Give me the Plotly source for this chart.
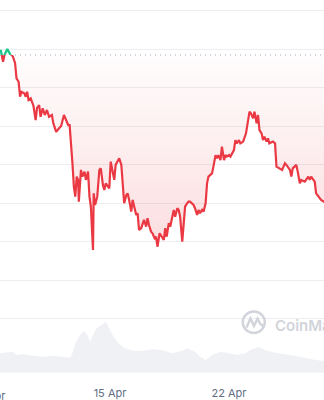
import pandas as pd
import plotly.graph_objects as go

# ---------------- data ----------------
START = pd.Timestamp("2024-04-08")

# hours since 8 Apr 2024 00:00
hours = [13, 14, 17, 19, 23, 27, 31, 34, 36, 39, 41, 43, 47, 49, 51, 53, 56, 60, 63, 65,
         68, 70, 73, 76, 79, 82, 86, 88, 92, 95, 99, 103, 107, 109, 111, 113, 115, 117, 119, 121,
         123, 124, 127, 129, 132, 134, 137, 139, 141, 144, 145, 147, 150, 153, 155, 158, 160, 162, 165, 167,
         169, 172, 174, 176, 179, 181, 184, 186, 188, 191, 193, 195, 198, 200, 202, 205, 207, 209, 212, 214,
         216, 219, 221, 223, 226, 228, 231, 233, 235, 238, 241, 244, 246, 248, 251, 253, 256, 258, 260, 263,
         265, 267, 270, 272, 274, 277, 279, 281, 284, 286, 288, 291, 293, 295, 298, 300, 303, 305, 307, 310,
         312, 314, 317, 319, 321, 324, 326, 329, 331, 333, 336, 338, 340, 343, 345, 347, 350, 352, 356, 358,
         360, 363, 365, 367, 370, 372, 375, 377, 379, 382, 384, 386, 389, 391, 393, 398, 401, 403, 408, 411,
         415, 417, 422, 424, 426, 431, 433, 436, 438, 443, 448, 450, 452, 455, 457, 459, 462, 464, 466, 470, 474]

price = [71950, 71910, 71340, 71690, 72000, 71780, 71600, 71260, 70480, 70300,
         69520, 69780, 69700, 69520, 69780, 69350, 69440, 69040, 68310, 68940,
         69090, 68480, 68920, 68570, 68830, 68480, 68570, 68140, 67700, 67830,
         68000, 68570, 68220, 68050, 68050, 66750, 66060, 64850, 64330, 65370,
         65200, 64070, 65720, 65370, 65630, 65200, 65630, 64330, 63810, 61560,
         64500, 63900, 64330, 65720, 65800, 64940, 64680, 65020, 64850, 64760,
         66150, 65540, 65200, 65980, 66230, 66320, 65980, 64940, 63990, 64420,
         64500, 64160, 63550, 64160, 63810, 63380, 63470, 62600, 62690, 62860,
         63120, 62770, 63210, 62860, 62510, 62430, 62170, 62250, 61730, 62430,
         62250, 62080, 62690, 62250, 62950, 62770, 63290, 63640, 63290, 63730,
         63640, 63290, 61990, 63030, 63810, 63990, 64070, 64070, 63990, 63900,
         63730, 63380, 63640, 63470, 63640, 63550, 63990, 65020, 65370, 65460,
         65540, 65890, 66490, 66320, 66490, 66230, 66930, 66230, 66490, 66410,
         66490, 66410, 66580, 66750, 67270, 67100, 67270, 67100, 67190, 67450,
         67620, 68310, 68740, 68660, 68400, 68740, 68140, 68570, 67790, 67620,
         67270, 67450, 67190, 67360, 67100, 67190, 67100, 65890, 65800, 65720,
         66060, 65980, 65720, 65370, 65800, 65980, 65630, 65020, 65200, 65110,
         65370, 65200, 65370, 65200, 65110, 64500, 64330, 64250, 64160, 64070, 64000]

vol_hours = [12, 22, 31, 36, 46, 60, 74, 88, 102, 112, 115, 119, 126, 131, 136, 140,
             144, 149, 156, 162, 167, 173, 180, 189, 201, 215, 229, 241, 256, 270, 277, 288,
             295, 303, 312, 324, 336, 347, 359, 368, 378, 387, 401, 415, 430, 444, 458, 470, 474]
volume_bn = [29.1, 30.0, 31.5, 26.6, 27.6, 25.5, 24.0, 25.5, 24.0, 22.5, 29.1, 44.1, 56.6, 63.0, 56.6, 46.5,
             56.6, 66.6, 71.6, 76.5, 66.6, 54.0, 44.1, 36.6, 33.0, 33.0, 35.1, 34.1, 29.1, 33.0, 36.6, 31.5,
             24.0, 19.1, 26.6, 31.5, 29.1, 26.6, 29.1, 35.1, 38.1, 34.1, 30.0, 28.1, 25.1, 22.5, 19.1, 17.6, 17.4]

open_price = 71690
grid_vals = [58000, 60000, 62000, 64000, 66000, 68000, 70000, 72000, 74000]
tick_dates = ["2024-04-15", "2024-04-22"]
tick_text = ["15 Apr", "22 Apr"]
first_label = "8 Apr"

# ---------------- layout geometry ----------------
W, H, B = 324, 400, 20
PH = H - B
y_lo, y_hi = 54806, 74546
x_range = [START + pd.Timedelta(hours=12.706), START + pd.Timedelta(hours=470.12)]
d = (open_price - y_lo) / (y_hi - y_lo)

RED = "#ea3943"
GREEN = "#16c784"
LABEL = "#616e85"

t = START + pd.to_timedelta(hours, unit="h")
tv = START + pd.to_timedelta(vol_hours, unit="h")

def px(x):
    return x / W

def py(y):
    return (PH - y) / PH

fig = go.Figure()

# volume area
fig.add_trace(go.Scatter(x=tv, y=volume_bn, yaxis="y2", mode="lines", line=dict(width=0),
                         fill="tozeroy", fillcolor="#eff1f4", hoverinfo="skip", showlegend=False))

# red area (below opening price) between line and baseline
fig.add_trace(go.Scatter(x=[t[0], t[-1]], y=[open_price, open_price], yaxis="y3", mode="lines",
                         line=dict(width=0), hoverinfo="skip", showlegend=False))
fig.add_trace(go.Scatter(x=t, y=price, yaxis="y3", mode="lines", line=dict(width=0),
                         fill="tonexty",
                         fillgradient=dict(type="vertical", start=61500, stop=open_price,
                                           colorscale=[[0, "rgba(234,57,67,0.17)"],
                                                       [1, "rgba(234,57,67,0.01)"]]),
                         hoverinfo="skip", showlegend=False))

# green area (above opening price)
fig.add_trace(go.Scatter(x=[t[0], t[-1]], y=[open_price, open_price], yaxis="y4", mode="lines",
                         line=dict(width=0), hoverinfo="skip", showlegend=False))
fig.add_trace(go.Scatter(x=t, y=price, yaxis="y4", mode="lines", line=dict(width=0),
                         fill="tonexty", fillcolor="rgba(22,199,132,0.06)",
                         hoverinfo="skip", showlegend=False))

# price line, green above / red below the opening price
fig.add_trace(go.Scatter(x=t, y=price, yaxis="y4", mode="lines",
                         line=dict(color=GREEN, width=2.2), showlegend=False))
fig.add_trace(go.Scatter(x=t, y=price, yaxis="y3", mode="lines",
                         line=dict(color=RED, width=2.2), showlegend=False))

# dotted opening-price line
fig.add_shape(type="line", xref="paper", x0=0, x1=1, yref="y", y0=open_price, y1=open_price,
              line=dict(color="#a3a9b3", width=1, dash="1px,4px"), layer="above")

# watermark (logo ring + wave + wordmark)
WM = "#d1d4da"
fig.add_shape(type="circle", xref="paper", yref="paper",
              x0=px(242.8), x1=px(264.8), y0=py(333), y1=py(311.5),
              line=dict(color=WM, width=2.4))
wave = [(246.5, 327.5), (250.5, 318.5), (254, 326), (257.5, 318.5), (260, 323.5), (263.5, 326.5)]
path = "M " + " L ".join(f"{px(a):.5f},{py(b):.5f}" for a, b in wave)
fig.add_shape(type="path", xref="paper", yref="paper", path=path,
              line=dict(color=WM, width=2.4))
fig.add_annotation(text="CoinMarketCap", xref="paper", yref="paper", x=px(273), y=py(325.5),
                   xanchor="left", yanchor="middle", showarrow=False,
                   font=dict(family="Inter", size=15, color=WM, weight=600))

# first date label, mostly outside the visible area
fig.add_annotation(text=first_label, xref="paper", yref="paper", x=px(-9), y=py(395.5),
                   xanchor="center", yanchor="middle", showarrow=False,
                   font=dict(family="Inter", size=11, color=LABEL))

fig.update_layout(
    width=W, height=H,
    margin=dict(l=0, r=0, t=0, b=B, pad=0, autoexpand=False),
    paper_bgcolor="white", plot_bgcolor="rgba(0,0,0,0)",
    showlegend=False,
    xaxis=dict(type="date", range=x_range, showgrid=False, zeroline=False, showline=False,
               automargin=False,
               tickvals=tick_dates, ticktext=tick_text, ticks="", ticklabelstandoff=5,
               tickfont=dict(family="Inter", size=11, color=LABEL)),
    yaxis=dict(range=[y_lo, y_hi], tickvals=grid_vals, showticklabels=False, showgrid=True,
               automargin=False,
               gridcolor="#eceef1", gridwidth=1, zeroline=False, showline=False),
    yaxis2=dict(range=[-10.95, 559.05], overlaying="y", visible=False, showgrid=False),
    yaxis3=dict(domain=[0, d], range=[y_lo, open_price], anchor="x", visible=False, showgrid=False),
    yaxis4=dict(domain=[d, 1], range=[open_price, y_hi], anchor="x", visible=False, showgrid=False),
)

fig.write_html("out.html")
